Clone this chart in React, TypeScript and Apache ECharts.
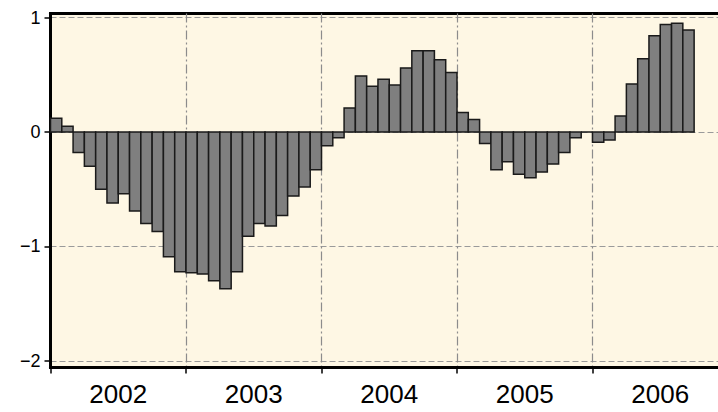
import React, { useEffect, useRef } from "react";
import * as echarts from "echarts";

// Monthly values, Jan 2002 .. Sep 2006
const values2002 = [0.12, 0.05, -0.18, -0.3, -0.5, -0.62, -0.54, -0.69, -0.8, -0.87, -1.09, -1.22];
const values2003 = [-1.23, -1.24, -1.3, -1.37, -1.22, -0.91, -0.8, -0.82, -0.73, -0.56, -0.48, -0.33];
const values2004 = [-0.12, -0.05, 0.21, 0.49, 0.4, 0.46, 0.41, 0.56, 0.71, 0.71, 0.63, 0.52];
const values2005 = [0.17, 0.11, -0.1, -0.33, -0.26, -0.37, -0.4, -0.35, -0.28, -0.18, -0.05, 0];
const values2006 = [-0.09, -0.07, 0.14, 0.42, 0.64, 0.84, 0.94, 0.95, 0.89];

const years = ["2002", "2003", "2004", "2005", "2006"];
const yTicks = [-2, -1, 0, 1];

const allValues = [...values2002, ...values2003, ...values2004, ...values2005, ...values2006];

export default function App() {
  const ref = useRef<HTMLDivElement>(null);

  useEffect(() => {
    if (!ref.current) return;
    const chart = echarts.init(ref.current, null, { renderer: "svg" });
    const data = allValues.map((v, i) => [i, v]);
    const monthsPerYear = 12;
    const xTickValues = [...years.map((_, i) => i * monthsPerYear), years.length * monthsPerYear];
    const xLabelValues = years.map((_, i) => i * monthsPerYear + monthsPerYear / 2);
    const font = "'Liberation Sans', Arial, Helvetica, sans-serif";

    chart.setOption({
      animation: false,
      backgroundColor: "#ffffff",
      grid: {
        left: 50.5,
        right: 12,
        top: 13.5,
        bottom: 44.5,
        show: true,
        backgroundColor: "#fef7e4",
        borderColor: "#000000",
        borderWidth: 3,
      },
      xAxis: {
        type: "value",
        min: 0,
        max: years.length * monthsPerYear,
        axisLine: { show: true, onZero: false, lineStyle: { color: "#000", width: 3 } },
        axisTick: {
          show: true,
          length: 6,
          customValues: xTickValues,
          lineStyle: { color: "#000", width: 1.5 },
        },
        axisLabel: {
          customValues: xLabelValues,
          formatter: (v: number) => years[Math.floor(v / monthsPerYear)] ?? "",
          fontSize: 26,
          fontFamily: font,
          color: "#000",
          margin: 13,
        },
        splitLine: {
          show: true,
          lineStyle: { color: "#8c8c8c", width: 1.2, type: [9, 3, 2, 3] },
        },
      },
      yAxis: {
        type: "value",
        min: -2.057,
        max: 1.035,
        axisLine: { show: true, onZero: false, lineStyle: { color: "#000", width: 3 } },
        axisTick: {
          show: true,
          length: 6,
          customValues: yTicks,
          lineStyle: { color: "#000", width: 1.5 },
        },
        axisLabel: {
          customValues: yTicks,
          formatter: (v: number) => (v < 0 ? "\u2212" + Math.abs(v) : String(v)),
          fontSize: 18,
          fontFamily: font,
          color: "#000",
          margin: 10,
        },
        splitLine: {
          show: true,
          lineStyle: { color: "#9a9a9a", width: 1.2, type: [6, 3] },
        },
      },
      series: [
        {
          type: "custom",
          data,
          encode: { x: 0, y: 1 },
          renderItem: (params: any, api: any) => {
            const i = api.value(0);
            const v = api.value(1);
            const p0 = api.coord([i, 0]);
            const p1 = api.coord([i + 1, v]);
            return {
              type: "rect",
              shape: {
                x: p0[0],
                y: Math.min(p0[1], p1[1]),
                width: p1[0] - p0[0],
                height: Math.abs(p1[1] - p0[1]),
              },
              style: { fill: "#7f7f7f", stroke: "#1a1a1a", lineWidth: 1.5 },
            };
          },
        },
      ],
    });

    return () => chart.dispose();
  }, []);

  return (
    <div
      ref={ref}
      style={{ position: "fixed", left: 0, top: 0, width: 740, height: 412 }}
    />
  );
}
